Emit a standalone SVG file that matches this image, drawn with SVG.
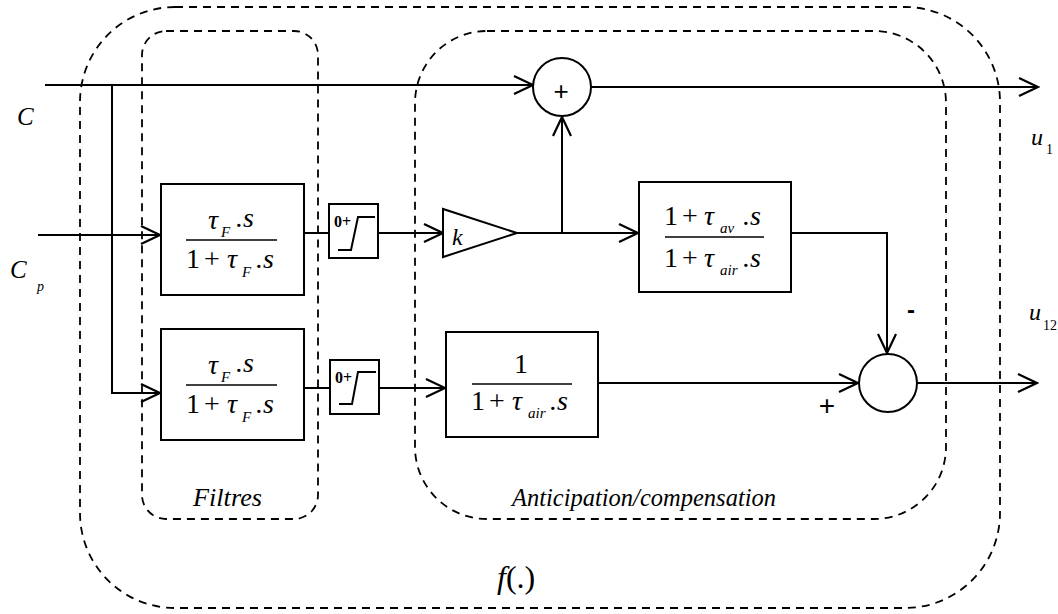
<svg xmlns="http://www.w3.org/2000/svg" width="1058" height="614" viewBox="0 0 1058 614">
<style>
.dash{fill:none;stroke:#000;stroke-width:1.8;stroke-dasharray:8 6}
.box{fill:#fff;stroke:#000;stroke-width:2}
.ln{fill:none;stroke:#000;stroke-width:2}
.m{font-family:'Liberation Serif','DejaVu Serif',serif;font-size:28px;fill:#000}
.i{font-style:italic}
.sub{font-family:'Liberation Serif','DejaVu Serif',serif;font-style:italic;font-size:15px;fill:#000}
.lbl{font-family:'Liberation Serif','DejaVu Serif',serif;font-style:italic;fill:#000}
.sg{font-family:'Liberation Sans',sans-serif;fill:#000}
.sat{font-family:'Liberation Serif','DejaVu Serif',serif;font-weight:bold;font-size:16px;fill:#000}
</style>
<defs>
<marker id="arr" viewBox="0 0 22 20" refX="20" refY="10" markerWidth="22" markerHeight="20" orient="auto" markerUnits="userSpaceOnUse">
<path d="M1,1 L20,10 L1,19" fill="none" stroke="#000" stroke-width="2.2"/>
</marker>
</defs>
<rect width="1058" height="614" fill="#fff"/>
<g id="regions">
<rect id="outer" class="dash" x="80" y="7" width="920" height="601" rx="95" ry="95"/>
<rect id="filtres" class="dash" x="142" y="31" width="176" height="488" rx="24" ry="24"/>
<rect id="anticipation" class="dash" x="415" y="31" width="531" height="488" rx="72" ry="72"/>
</g>
<g id="connectors">
<path class="ln" d="M45,85 H533" marker-end="url(#arr)"/>
<path class="ln" d="M112,85 V393 H160" marker-end="url(#arr)"/>
<path class="ln" d="M38,235 H160" marker-end="url(#arr)"/>
<path class="ln" d="M304,233 H329"/>
<path class="ln" d="M378,233 H443" marker-end="url(#arr)"/>
<path class="ln" d="M517,233 H638" marker-end="url(#arr)"/>
<path class="ln" d="M562,233 V117" marker-end="url(#arr)"/>
<path class="ln" d="M591,87 H1038" marker-end="url(#arr)"/>
<path class="ln" d="M791,233 H887 V353" marker-end="url(#arr)"/>
<path class="ln" d="M304,388 H330"/>
<path class="ln" d="M379,388 H445" marker-end="url(#arr)"/>
<path class="ln" d="M598,383 H858" marker-end="url(#arr)"/>
<path class="ln" d="M917,383 H1037" marker-end="url(#arr)"/>
</g>
<g id="filter1">
<rect class="box" x="161" y="184" width="143" height="111"/>
<text class="m i" x="208" y="229">τ</text>
<text class="sub" x="221" y="237">F</text>
<text class="m i" x="236" y="227">.s</text>
<line class="ln" x1="186" y1="240" x2="277" y2="240" style="stroke-width:1.5"/>
<text class="m" x="186" y="268">1</text>
<text class="m" x="204" y="268">+</text>
<text class="m i" x="227" y="268">τ</text>
<text class="sub" x="242" y="277">F</text>
<text class="m i" x="256" y="268">.s</text>
</g>
<g id="filter2">
<rect class="box" x="161" y="329" width="143" height="111"/>
<text class="m i" x="208" y="374">τ</text>
<text class="sub" x="221" y="382">F</text>
<text class="m i" x="236" y="372">.s</text>
<line class="ln" x1="186" y1="385" x2="277" y2="385" style="stroke-width:1.5"/>
<text class="m" x="186" y="413">1</text>
<text class="m" x="204" y="413">+</text>
<text class="m i" x="227" y="413">τ</text>
<text class="sub" x="242" y="422">F</text>
<text class="m i" x="256" y="413">.s</text>
</g>
<g id="sat1">
<rect class="box" x="329" y="204" width="49" height="54"/>
<text class="sat" x="334" y="227">0+</text>
<path class="ln" d="M338,250 H351 L358,217 H375"/>
</g>
<g id="sat2">
<rect class="box" x="330" y="360" width="49" height="54"/>
<text class="sat" x="335" y="383">0+</text>
<path class="ln" d="M339,404 H352 L358,372 H376"/>
</g>
<g id="gain">
<path class="box" d="M443,209 L443,257 L517,233 Z"/>
<text class="lbl" x="452" y="245" style="font-size:24px">k</text>
</g>
<g id="sum1">
<circle class="box" cx="562" cy="87" r="29"/>
<text class="sg" x="561" y="100" style="font-size:26px" text-anchor="middle">+</text>
</g>
<g id="lead">
<rect class="box" x="639" y="182" width="152" height="110"/>
<text class="m" x="664" y="225">1</text>
<text class="m" x="682" y="225">+</text>
<text class="m i" x="704" y="225">τ</text>
<text class="sub" x="720" y="233">av</text>
<text class="m i" x="743" y="225">.s</text>
<line class="ln" x1="665" y1="237" x2="764" y2="237" style="stroke-width:1.5"/>
<text class="m" x="664" y="267">1</text>
<text class="m" x="682" y="267">+</text>
<text class="m i" x="704" y="267">τ</text>
<text class="sub" x="720" y="275">air</text>
<text class="m i" x="743" y="267">.s</text>
</g>
<g id="lag">
<rect class="box" x="446" y="332" width="152" height="105"/>
<text class="m" x="521" y="373" text-anchor="middle">1</text>
<line class="ln" x1="472" y1="384" x2="572" y2="384" style="stroke-width:1.5"/>
<text class="m" x="471" y="410">1</text>
<text class="m" x="489" y="410">+</text>
<text class="m i" x="512" y="410">τ</text>
<text class="sub" x="528" y="418">air</text>
<text class="m i" x="550" y="410">.s</text>
</g>
<g id="sum2">
<circle class="box" cx="888" cy="383" r="29"/>
<text class="sg" x="907" y="318" style="font-size:24px;font-weight:bold">-</text>
<text class="sg" x="827" y="415" style="font-size:28px" text-anchor="middle">+</text>
</g>
<g id="labels">
<text class="lbl" x="17" y="125" style="font-size:25px">C</text>
<text class="lbl" x="10" y="278" style="font-size:25px">C</text>
<text class="sub" x="37" y="291" style="font-size:14px">p</text>
<text class="lbl" x="1031" y="145" style="font-size:24px">u</text>
<text class="sub" x="1046" y="154" style="font-size:14px;font-style:normal">1</text>
<text class="lbl" x="1029" y="320" style="font-size:24px">u</text>
<text class="sub" x="1043" y="330" style="font-size:14px;font-style:normal">12</text>
<text class="lbl" x="193" y="506" style="font-size:25px" textLength="69" lengthAdjust="spacingAndGlyphs">Filtres</text>
<text class="lbl" x="512" y="506" style="font-size:25px" textLength="264" lengthAdjust="spacingAndGlyphs">Anticipation/compensation</text>
<text class="lbl" x="497" y="588" style="font-size:32px;font-style:normal"><tspan style="font-style:italic">f</tspan>(.)</text>
</g>
</svg>
